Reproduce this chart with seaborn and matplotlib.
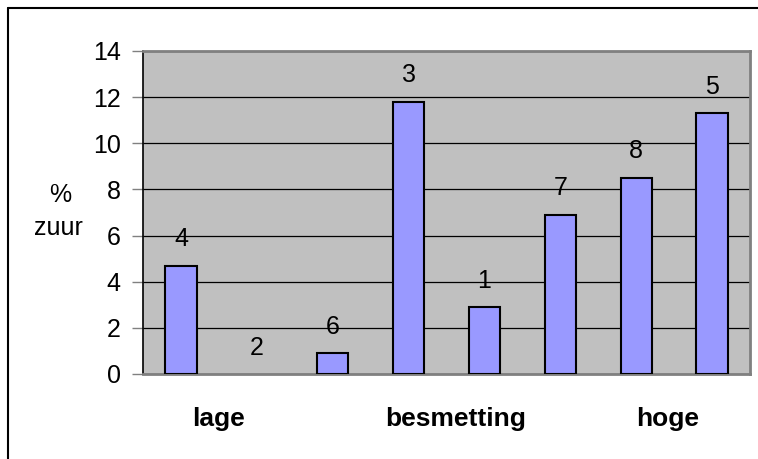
import matplotlib
matplotlib.use("Agg")
import matplotlib.pyplot as plt
import seaborn as sns
import pandas as pd
from matplotlib.lines import Line2D

# data
monsters = ["4", "2", "6", "3", "1", "7", "8", "5"]
zuur = [4.7, 0.0, 0.9, 11.8, 2.9, 6.9, 8.5, 11.3]
groep_labels = ["lage", "besmetting", "hoge"]
groep_pos = [0.5, 3.62, 6.42]
yticks = [0, 2, 4, 6, 8, 10, 12, 14]

df = pd.DataFrame({"monster": monsters, "zuur": zuur})

sns.set_style("white")
plt.rcParams["font.family"] = ["Liberation Sans", "DejaVu Sans"]
plt.rcParams["text.color"] = "black"
plt.rcParams["xtick.labelcolor"] = "black"
plt.rcParams["ytick.labelcolor"] = "black"

fig = plt.figure(figsize=(7.58, 4.59), dpi=100)
ax = fig.add_axes([0.1887, 0.1852, 0.8007, 0.7037])

sns.barplot(data=df, x="monster", y="zuur", order=monsters, color="#9999FF",
            saturation=1, width=0.41, edgecolor="black", linewidth=1.5,
            zorder=3, ax=ax)
# empty bars show no outline
for p in ax.patches:
    if p.get_height() == 0:
        p.set_edgecolor("none")

ax.set_facecolor("#C0C0C0")
ax.set_ylim(0, 14)
ax.set_xlim(-0.5, len(monsters) - 0.5)
ax.set_yticks(yticks)
ax.set_yticklabels([str(t) for t in yticks], fontsize=18)
ax.yaxis.grid(True, color="black", linewidth=0.9, zorder=0)
ax.set_axisbelow(True)
ax.tick_params(axis="y", direction="out", length=8, width=1, color="#808080",
               labelcolor="black", left=True, pad=8)

# group labels under the axis
ax.set_xticks(groep_pos)
ax.set_xticklabels(groep_labels, fontsize=19, fontweight="bold")
for t in ax.get_xticklabels():
    t.set_color("black")
ax.tick_params(axis="x", length=0, pad=24)

ax.set_xlabel("")
ax.set_ylabel("")
fig.text(60 / 758, 1 - 195 / 459, "%", fontsize=18, ha="center", va="center",
         color="black")
fig.text(58 / 758, 1 - 228 / 459, "zuur", fontsize=18, ha="center", va="center",
         color="black")

for side in ["top", "right", "bottom"]:
    ax.spines[side].set_visible(True)
    ax.spines[side].set_color("#808080")
    ax.spines[side].set_linewidth(2)
ax.spines["left"].set_color("black")
ax.spines["left"].set_linewidth(1.2)

# sample numbers above bars
for i, (m, v) in enumerate(zip(monsters, zuur)):
    ax.annotate(m, (i, v), xytext=(0, 19), textcoords="offset points",
                ha="center", va="center", fontsize=18, color="black", zorder=4)

# outer chart frame (top and left only visible)
fig.add_artist(Line2D([7.5 / 758, 7.5 / 758], [0, 1 - 7.5 / 459],
                      transform=fig.transFigure, color="black", linewidth=1.5))
fig.add_artist(Line2D([7.5 / 758, 1], [1 - 7.5 / 459, 1 - 7.5 / 459],
                      transform=fig.transFigure, color="black", linewidth=1.5))

fig.savefig("out.png", dpi=100)
